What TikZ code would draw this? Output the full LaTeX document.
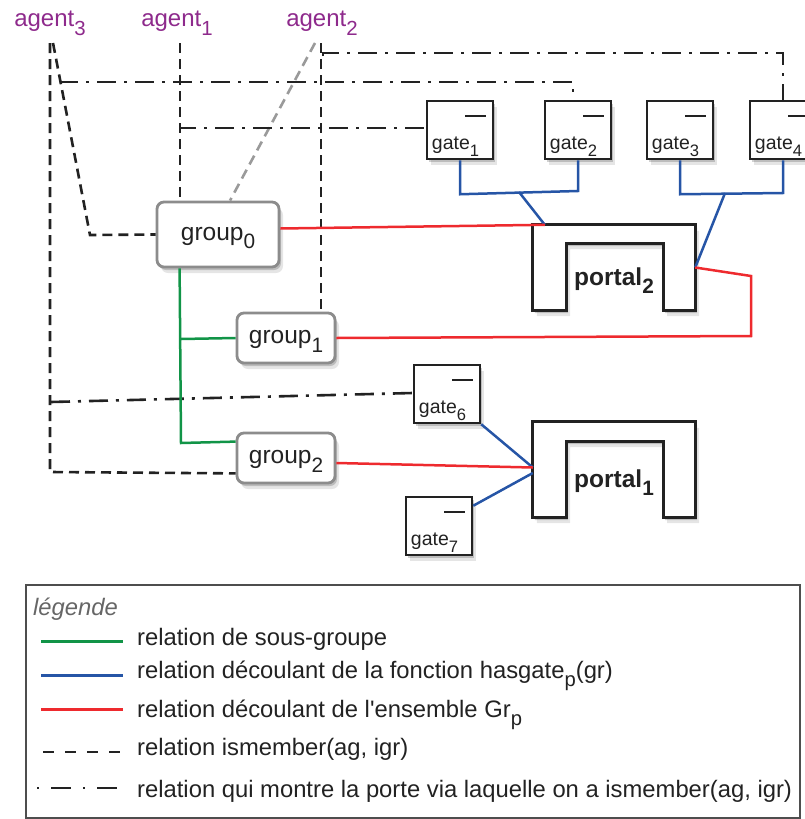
\documentclass[tikz,border=0pt]{standalone}
\usepackage{fontspec}
\setmainfont{Liberation Sans}
\usepackage{graphicx}
\usetikzlibrary{calc,shadows}
\definecolor{agentc}{HTML}{8E2A8C}
\definecolor{redc}{HTML}{EE2A2E}
\definecolor{bluec}{HTML}{2655A6}
\definecolor{greenc}{HTML}{119447}
\definecolor{linec}{HTML}{222222}
\definecolor{groupc}{HTML}{8C8C8C}
\definecolor{grayl}{HTML}{9A9A9A}
\definecolor{legtxt}{HTML}{666666}
\newcommand\subs[1]{\raisebox{-0.35em}{\scalebox{0.85}{#1}}}
\begin{document}
\begin{tikzpicture}[x=1pt,y=-1pt,
  shad/.style={drop shadow={shadow xshift=2pt,shadow yshift=-3pt,opacity=0.18,fill=black},
               drop shadow={shadow xshift=4pt,shadow yshift=-6pt,opacity=0.10,fill=black}},
  agentlbl/.style={text=agentc,font=\fontsize{24}{28}\selectfont,anchor=base,inner sep=0pt},
  groupbox/.style={draw=groupc,line width=2.8pt,rounded corners=7pt,fill=white,shad,inner sep=0pt,
    text=linec,font=\fontsize{24.5}{28}\selectfont,text height=11pt,text depth=0pt},
  gatebox/.style={draw=linec,line width=2.5pt,fill=white,minimum width=66pt,minimum height=58pt,inner sep=0pt,shad},
  gatelbl/.style={font=\fontsize{19.5}{22}\selectfont,anchor=base west,inner sep=0pt,text=linec},
  gatemark/.style={draw=linec,line width=2pt},
  portalbox/.style={draw=linec,line width=3pt,fill=white,shad,line join=miter},
  portallbl/.style={font=\bfseries\fontsize{24.5}{28}\selectfont,anchor=base west,inner sep=0pt,text=linec},
  ismem/.style={draw=linec,line width=2.6pt,dash pattern=on 10pt off 6pt},
  ismemg/.style={draw=grayl,line width=2.6pt,dash pattern=on 10pt off 6pt},
  viagate/.style={draw=linec,line width=2.6pt,dash pattern=on 19pt off 8pt on 3pt off 8pt},
  redl/.style={draw=redc,line width=2.5pt},
  bluel/.style={draw=bluec,line width=2.5pt},
  greenl/.style={draw=greenc,line width=2.5pt},
  legtext/.style={font=\fontsize{23.8}{28}\selectfont,anchor=base west,inner sep=0pt,text=linec}
]
\useasboundingbox (0,0) rectangle (805,819);

% agents
\node[agentlbl] (ag3) at (50,27) {agent\subs{3}};
\node[agentlbl] (ag1) at (177,27) {agent\subs{1}};
\node[agentlbl] (ag2) at (322,27) {agent\subs{2}};
\coordinate (a3t) at (50,43);
\coordinate (a3d) at (53,43);
\coordinate (a1t) at (180,43);
\coordinate (a2g) at (315,43);
\coordinate (a2t) at (321,43);

% groups
\node[groupbox,minimum width=122pt,minimum height=65pt] (g0) at (218,234.5) {group\subs{0}};
\node[groupbox,minimum width=98pt,minimum height=50pt] (g1) at (286,338) {group\subs{1}};
\node[groupbox,minimum width=98pt,minimum height=50pt] (g2) at (286,458) {group\subs{2}};

% gates
\foreach \n/\x/\y in {1/460/130,2/578/130,3/680/130,4/783/130,6/447/394,7/439/526}{
  \node[gatebox] (gt\n) at (\x,\y) {};
  \node[gatelbl] (gt\n l) at ($(gt\n.south west)+(6,-11)$) {gate\subs{\n}};
  \draw[gatemark] ($(gt\n.north east)+(-29,16)$) -- ($(gt\n.north east)+(-8,16)$);
}

% portals
\node[minimum width=162pt,minimum height=85pt,inner sep=0pt] (p2) at (614,267.5) {};
\draw[portalbox] (p2.south west) -- (p2.north west) -- (p2.north east) -- (p2.south east)
  -- ++(-32,0) -- ++(0,-67) -- ++(-97,0) -- ++(0,67) -- cycle;
\node[portallbl] (p2l) at (574,285) {portal\subs{2}};
\node[minimum width=162pt,minimum height=95pt,inner sep=0pt] (p1) at (614,469.5) {};
\draw[portalbox] (p1.south west) -- (p1.north west) -- (p1.north east) -- (p1.south east)
  -- ++(-32,0) -- ++(0,-76) -- ++(-97,0) -- ++(0,76) -- cycle;
\node[portallbl] (p1l) at (574,487) {portal\subs{1}};
\coordinate (p2a) at ($(p2.north west)+(12,0)$);
\coordinate (p1a) at ($(p1.west)+(0,-2)$);
\coordinate (p1b) at ($(p1.west)+(0,3.5)$);

% ismember (dashed)
\draw[ismem] (a3t) -- (50,472) -- ($(g2.south west)+(0,-11)$);
\draw[ismem] (a3d) -- (90,235) -- (g0.west);
\draw[ismem] (a1t) -- (a1t |- g0.north);
\draw[ismemg] (a2g) -- ($(g0.north)+(12,0)$);
\draw[ismem] (a2t) -- (a2t |- g1.north);

% via gate (dash-dot)
\draw[viagate] (61,84) -- (61,82) -- (573,82) -- ($(gt2.north)+(-5,0)$);
\draw[viagate] (180,131) -- (180,128) -- ($(gt1.west)+(0,-2)$);
\draw[viagate] (323,56) -- (323,53) -- (783,53) -- (gt4.north);
\draw[viagate] (51,402) -- ($(gt6.west)+(0,-1)$);

% sub-group (green)
\draw[greenl] ($(g0.south west)+(24,0)$) -- (181,443) -- ($(g2.north west)+(0,10)$);
\draw[greenl] (181,339) -- (g1.west);

% hasgate (blue)
\draw[bluel] (gt1.south) -- ++(0,34) -- (578,191) -- (gt2.south);
\draw[bluel] (519,192) -- (p2a);
\draw[bluel] (gt3.south) -- ++(0,34) -- (783,193) -- (gt4.south);
\draw[bluel] (725,193) -- (p2.east);
\draw[bluel] (gt6.south east) -- (p1a);
\draw[bluel] ($(gt7.north east)+(0,10)$) -- (p1b);

% Gr_p (red)
\draw[redl] ($(g0.east)+(0,-6)$) -- (p2a);
\draw[redl] (g1.east) -- (751,336) -- (751,276) -- (p2.east);
\draw[redl] ($(g2.east)+(0,5)$) -- (p1a);

% legend
\node[draw=linec!80,line width=1.8pt,minimum width=774pt,minimum height=233pt,inner sep=0pt] (leg) at (413,701.5) {};
\node[legtext,text=legtxt,font=\itshape\fontsize{23.8}{28}\selectfont] (legt) at (33,615) {légende};
\draw[greenl,line width=3pt] (41,641) -- (123,641);
\node[legtext] (l1) at (137,645) {relation de sous-groupe};
\draw[bluel,line width=3pt] (41,675) -- (123,675);
\node[legtext] (l2) at (137,678) {relation découlant de la fonction hasgate\subs{p}(gr)};
\draw[redl,line width=3pt] (41,709) -- (123,709);
\node[legtext] (l3) at (137,717) {relation découlant de l\textquotesingle ensemble Gr\subs{p}};
\draw[draw=linec,line width=2.6pt,dash pattern=on 11pt off 11pt] (43,752) -- (120,752);
\node[legtext] (l4) at (137,755) {relation ismember(ag, igr)};
\draw[draw=linec,line width=2.6pt,dash pattern=on 2pt off 12pt on 20pt off 12pt] (37,788) -- (117,788);
\node[legtext] (l5) at (137,797) {relation qui montre la porte via laquelle on a ismember(ag, igr)};
\end{tikzpicture}
\end{document}
